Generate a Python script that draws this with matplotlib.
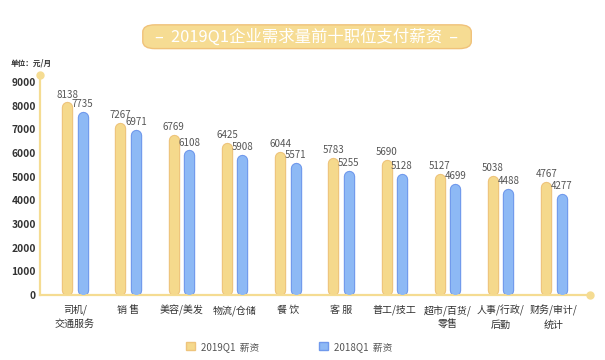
import numpy as np
import matplotlib
matplotlib.use("Agg")
from matplotlib import pyplot as plt
from matplotlib.patches import FancyBboxPatch, Patch

plt.rcParams['font.family'] = ['Noto Sans CJK SC', 'DejaVu Sans']

# data
categories = ['司机/\n交通服务', '销 售', '美容/美发', '物流/仓储', '餐 饮',
              '客 服', '普工/技工', '超市/百货/\n零售', '人事/行政/\n后勤', '财务/审计/\n统计']
pay_2019q1 = [8138, 7267, 6769, 6425, 6044, 5783, 5690, 5127, 5038, 4767]
pay_2018q1 = [7735, 6971, 6108, 5908, 5571, 5255, 5128, 4699, 4488, 4277]
yticks = [0, 1000, 2000, 3000, 4000, 5000, 6000, 7000, 8000, 9000]

YEL, YEL_EDGE = '#F5D98C', '#EEC47C'
BLU, BLU_EDGE = '#8DB9F5', '#7099EC'
AXIS_C = '#F5DC92'

fig = plt.figure(figsize=(6.05, 3.6), dpi=100)
ax = fig.add_axes([0.0661, 0.1806, 0.9089, 0.6114])

ymax = 9300
ax.set_ylim(0, ymax)
ax.set_xlim(-0.658, 9.677)

# pixel -> data helpers for the rounded bar caps
ax_h_px = 0.6114 * 360
unit_per_px = ymax / ax_h_px
bar_px = 10
cap = bar_px / 2 * unit_per_px
lw = bar_px * 72 / 100

x = np.arange(len(categories))
off = 0.145
for xs, vals, fc, ec in [(x - off, pay_2019q1, YEL, YEL_EDGE),
                         (x + off, pay_2018q1, BLU, BLU_EDGE)]:
    for xi, v in zip(xs, vals):
        ax.plot([xi, xi], [cap, v - cap], color=ec, lw=lw + 1.0,
                solid_capstyle='round', zorder=2)
        ax.plot([xi, xi], [cap, v - cap], color=fc, lw=lw - 0.6,
                solid_capstyle='round', zorder=3)
        ax.text(xi, v + 120, str(v), ha='center', va='bottom',
                fontsize=7, color='#555555', zorder=4)

for s in ['top', 'right']:
    ax.spines[s].set_visible(False)
for s in ['left', 'bottom']:
    ax.spines[s].set_color(AXIS_C)
    ax.spines[s].set_linewidth(1.6)
ax.plot([-0.658], [ymax], 'o', color=AXIS_C, ms=5, clip_on=False, zorder=5)
ax.plot([9.677], [0], 'o', color=AXIS_C, ms=5, clip_on=False, zorder=5)

ax.set_yticks(yticks)
ax.set_yticklabels([str(t) for t in yticks], fontsize=7.4, color='#333333',
                   fontweight='bold')
ax.set_xticks(x)
ax.set_xticklabels(categories, fontsize=7.2, color='#333333', linespacing=1.45)
ax.tick_params(axis='both', length=0)
ax.tick_params(axis='y', pad=3)
ax.tick_params(axis='x', pad=7)

fig.text(0.017, 0.825, '单位：元/月', fontsize=5.5, fontweight='bold',
         color='#333333', va='center')

# title banner
box = FancyBboxPatch((0.236, 0.865), 0.543, 0.066,
                     boxstyle='round,pad=0,rounding_size=0.02',
                     transform=fig.transFigure, facecolor='#F6DC93',
                     edgecolor='#F0C27A', linewidth=1.0)
fig.patches.append(box)
fig.text(0.507, 0.898, '–  2019Q1企业需求量前十职位支付薪资  –', ha='center',
         va='center', fontsize=11.8, color='white')

handles = [Patch(facecolor=YEL, edgecolor=YEL_EDGE, label='2019Q1  薪资'),
           Patch(facecolor=BLU, edgecolor=BLU_EDGE, label='2018Q1  薪资')]
fig.legend(handles=handles, loc='center', bbox_to_anchor=(0.478, 0.037), ncol=2,
           frameon=False, fontsize=7, handlelength=0.9, handleheight=0.9,
           columnspacing=6.2, handletextpad=0.6, labelcolor='#555555')

fig.savefig('out.png', dpi=100)
